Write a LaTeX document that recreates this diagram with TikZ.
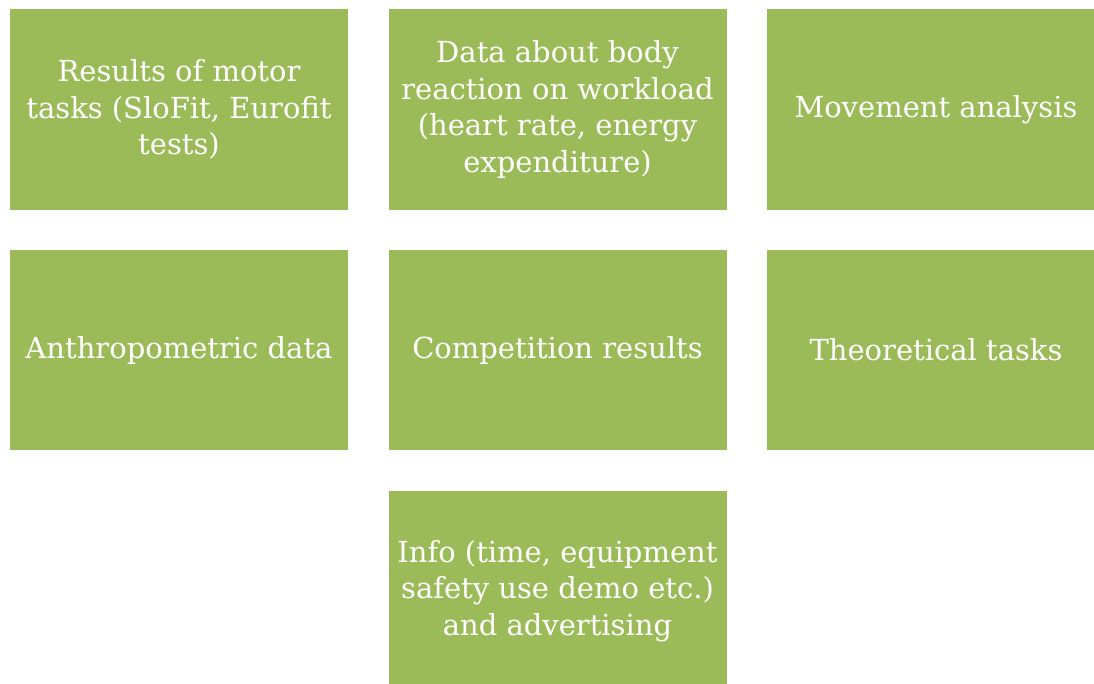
\documentclass[tikz,border=0pt]{standalone}
\usepackage{fontspec}
\setmainfont{DejaVu Serif}
\definecolor{boxgreen}{HTML}{9BBB59}
\tikzset{
  gbox/.style={fill=boxgreen, draw=none, minimum width=338bp, minimum height=200bp,
    inner sep=0pt, text=white, align=center,
    font=\fontsize{29bp}{36.5bp}\selectfont},
}
\begin{document}
\begin{tikzpicture}[x=1bp,y=-1bp]
\useasboundingbox (0,0) rectangle (1094,684);
\begin{scope}
\clip (0,0) rectangle (1094,684);
\node[gbox] (b1) at (179,109.5) {Results of motor\\tasks (SloFit, Eurofit\\tests)};
\node[gbox] (b2) at (557.5,109.5) {Data about body\\reaction on workload\\(heart rate, energy\\expenditure)};
\node[gbox] (b3) at (936,109.5) {Movement analysis};
\node[gbox] (b4) at (179,350) {Anthropometric data};
\node[gbox] (b5) at (557.5,350) {Competition results};
\node[gbox] (b6) at (936,350) {Theoretical tasks};
\node[gbox] (b7) at (557.5,591) {Info (time, equipment\\safety use demo etc.)\\and advertising};
\end{scope}
\end{tikzpicture}
\end{document}
